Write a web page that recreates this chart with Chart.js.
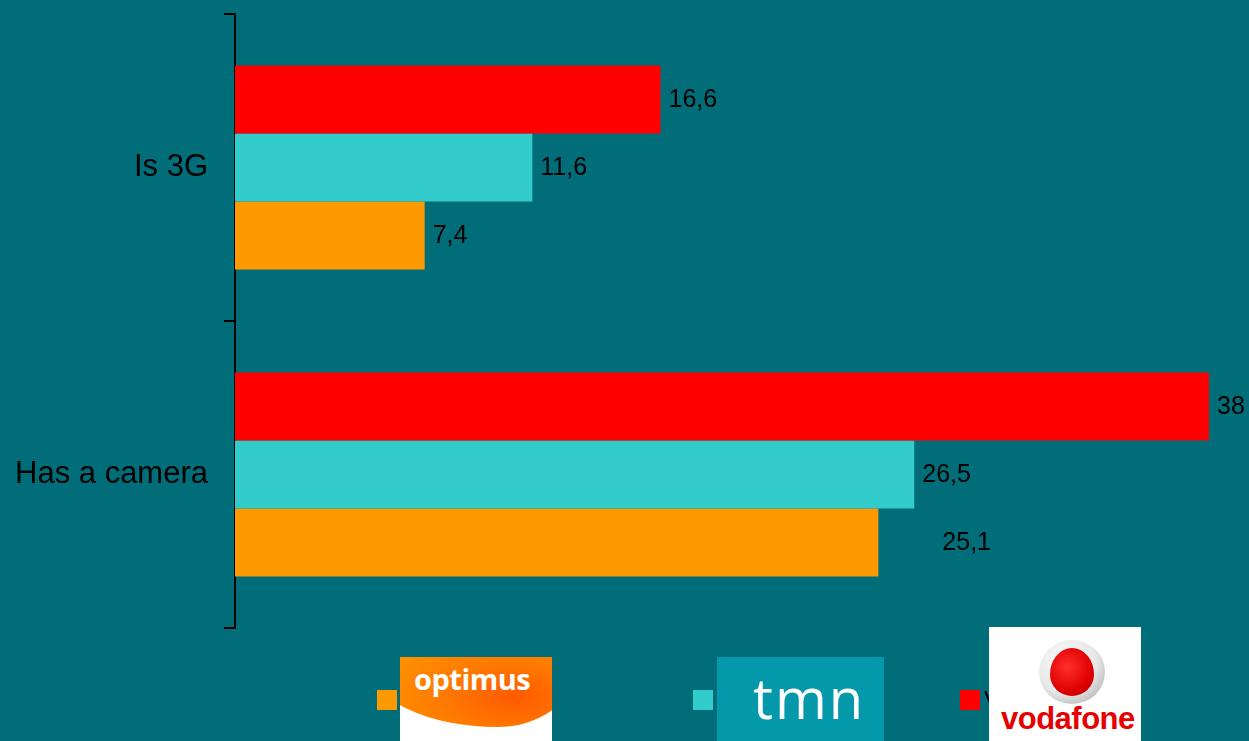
<!DOCTYPE html>
<html>
<head>
<meta charset="utf-8">
<script src="https://cdn.jsdelivr.net/npm/chart.js@4/dist/chart.umd.min.js"></script>
<style>
  html, body { margin: 0; padding: 0; background: #016d79; }
  #wrap { position: relative; width: 1249px; height: 741px; overflow: hidden; font-family: "Liberation Sans", Arial, sans-serif; }
  #chart { position: absolute; left: 0; top: 0; }
  .sw { position: absolute; width: 20px; height: 20px; top: 690px; }
  .lbl { position: absolute; top: 686px; font-size: 24px; color: #000; z-index: 1; }
  .logo { position: absolute; overflow: hidden; z-index: 2; }
  #optimus { left: 400px; top: 657px; width: 152px; height: 84px; background: #fff; }
  #optimus .swoosh { position: absolute; left: -30px; top: -30px; width: 205px; height: 100px;
    background: radial-gradient(ellipse at 70% 70%, #ff5a00 0%, #ff7a00 35%, #ff9400 70%, #ffa000 100%);
    border-radius: 0 0 40% 65% / 0 0 60% 65%; }
  #optimus span { position: absolute; left: 14px; top: 2px; color: #fff; font-weight: bold; font-size: 29px; font-family: "Open Sans", "DejaVu Sans", sans-serif; letter-spacing: -0.5px; }
  #tmn { left: 717px; top: 657px; width: 167px; height: 84px; background: #0398aa; }
  #tmn span { position: absolute; left: 36px; top: 2px; color: #fff; font-size: 56px; font-weight: 400; font-family: "Open Sans", "DejaVu Sans", sans-serif; letter-spacing: 2px; }
  #voda { left: 989px; top: 627px; width: 152px; height: 114px; background: #fff; }
  #voda .ring { position: absolute; left: 50px; top: 13px; width: 66px; height: 64px; border-radius: 50%;
    background: radial-gradient(circle at 40% 35%, #ffffff 0%, #e6e6e6 55%, #9a9a9a 100%); }
  #voda .drop { position: absolute; left: 11px; top: 8px; width: 44px; height: 48px; border-radius: 50% 50% 50% 50% / 55% 55% 45% 45%;
    background: radial-gradient(circle at 40% 40%, #ff3030 0%, #e00000 60%, #b00000 100%); }
  #voda span { position: absolute; left: 12px; top: 74px; color: #e60000; font-weight: bold; font-size: 31px; letter-spacing: -0.5px; }
</style>
</head>
<body>
<div id="wrap">
  <canvas id="chart" width="1249" height="741"></canvas>
  <div id="legend"></div>
  <div class="logo" id="optimus"><div class="swoosh"></div><span>optimus</span></div>
  <div class="logo" id="tmn"><span>tmn</span></div>
  <div class="logo" id="voda"><div class="ring"><div class="drop"></div></div><span>vodafone</span></div>
</div>
<script>
// values
const categories = ['Is 3G', 'Has a camera'];
const seriesNames = ['Vodafone', 'TMN', 'Optimus'];
const vodafone = [16.6, 38];
const tmn = [11.6, 26.5];
const optimus = [7.4, 25.1];
const seriesColors = ['#ff0000', '#33cccc', '#ff9900'];

// legend is drawn left to right: optimus, tmn, vodafone
const legendX = { Optimus: 377, TMN: 693, Vodafone: 960 };

const legend = document.getElementById('legend');
seriesNames.forEach((name, i) => {
    const sw = document.createElement('div');
    sw.className = 'sw';
    sw.style.left = legendX[name] + 'px';
    sw.style.background = seriesColors[i];
    legend.appendChild(sw);
    const lb = document.createElement('div');
    lb.className = 'lbl';
    lb.style.left = (legendX[name] + 24) + 'px';
    lb.textContent = name;
    legend.appendChild(lb);
});

// writes the value next to each bar, with a decimal comma
const valueLabels = {
    id: 'valueLabels',
    afterDatasetsDraw(chart, args, opts) {
        const ctx = chart.ctx;
        ctx.save();
        ctx.font = '25px "Liberation Sans", Arial, sans-serif';
        ctx.fillStyle = '#000';
        ctx.textBaseline = 'middle';
        chart.data.datasets.forEach((ds, di) => {
            chart.getDatasetMeta(di).data.forEach((bar, i) => {
                const txt = String(ds.data[i]).replace('.', ',');
                const extra = (opts.nudge && opts.nudge[di + '-' + i]) || 0;
                ctx.fillText(txt, bar.x + 8 + extra, bar.y + 1);
            });
        });
        ctx.restore();
    }
};

new Chart(document.getElementById('chart'), {
    type: 'bar',
    data: {
        labels: categories,
        datasets: [
            { label: seriesNames[0], data: vodafone, backgroundColor: seriesColors[0] },
            { label: seriesNames[1], data: tmn, backgroundColor: seriesColors[1] },
            { label: seriesNames[2], data: optimus, backgroundColor: seriesColors[2] }
        ]
    },
    options: {
        indexAxis: 'y',
        responsive: false,
        animation: false,
        categoryPercentage: 0.665,
        barPercentage: 1.0,
        layout: { padding: { top: 14, bottom: 113, right: 40, left: 0 } },
        scales: {
            x: { display: false, min: 0, max: 38 },
            y: {
                afterFit: (s) => { s.width = 235; s.paddingTop = 0; s.paddingBottom = 0; },
                border: { display: true, color: '#000', width: 2 },
                grid: { offset: true, drawOnChartArea: false, drawTicks: true, tickLength: 11, color: '#000', lineWidth: 2 },
                ticks: { color: '#000', padding: 16, font: { size: 31, family: '"Liberation Sans", Arial, sans-serif' } }
            }
        },
        plugins: {
            legend: { display: false },
            tooltip: { enabled: false },
            valueLabels: { nudge: { '2-1': 56 } }
        }
    },
    plugins: [valueLabels]
});
</script>
</body>
</html>
